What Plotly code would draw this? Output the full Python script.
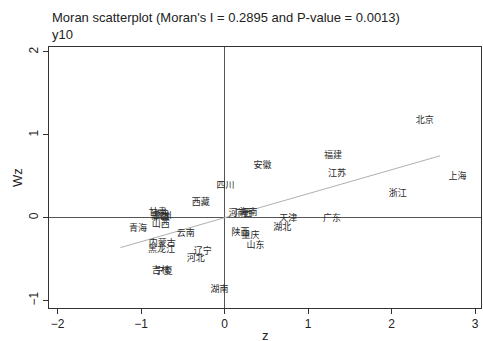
import plotly.graph_objects as go

provinces = ["北京", "上海", "浙江", "福建", "江苏", "广东", "天津", "湖北", "安徽", "四川",
             "西藏", "山东", "陕西", "重庆", "河南", "海南", "广西", "湖南", "甘肃", "新疆",
             "贵州", "山西", "江西", "青海", "云南", "内蒙古", "黑龙江", "辽宁", "河北", "吉林", "宁夏"]
z = [2.187, 2.579, 1.863, 1.088, 1.136, 1.076, 0.552, 0.480, 0.242, -0.199,
     -0.497, 0.159, -0.020, 0.099, -0.056, 0.075, 0.015, -0.271, -1.010, -0.974,
     -0.950, -0.974, -0.986, -1.248, -0.676, -1.010, -1.021, -0.471, -0.557, -0.974, -0.938]
wz = [1.175, 0.499, 0.293, 0.752, 0.535, -0.008, -0.008, -0.117, 0.632, 0.390,
      0.185, -0.335, -0.178, -0.214, 0.052, 0.064, 0.045, -0.866, 0.064, 0.004,
      0.028, -0.081, 0.020, -0.129, -0.190, -0.310, -0.383, -0.407, -0.492, -0.637, -0.650]
moran_i = 0.2895
p_value = 0.0013
x_ticks = [-2, -1, 0, 1, 2, 3]
y_ticks = [-1, 0, 1, 2]

fig = go.Figure()
zmin, zmax = min(z), max(z)
fig.add_trace(go.Scatter(x=[zmin, zmax], y=[moran_i * zmin, moran_i * zmax], mode="lines",
                         line=dict(color="#b0b0b0", width=1), hoverinfo="skip", showlegend=False))
fig.add_trace(go.Scatter(x=z, y=wz, mode="markers+text", text=provinces, textposition="middle right",
                         marker=dict(size=12, opacity=0),
                         textfont=dict(family="Noto Sans CJK SC", size=9, color="#2a2a2a"),
                         showlegend=False))

fig.update_layout(
    width=483, height=341,
    margin=dict(l=49, r=2, t=47, b=33, autoexpand=False),
    paper_bgcolor="white", plot_bgcolor="white",
    font=dict(family="Liberation Sans, Arial", color="#222222", size=12),
    annotations=[
        dict(text=f"Moran scatterplot (Moran's I = {moran_i} and P-value = {p_value:.4f})<br>y10",
             xref="paper", yref="paper", x=0, y=1, xanchor="left", yanchor="bottom",
             yshift=3, xshift=1, align="left", showarrow=False,
             font=dict(size=13, color="#222222", family="Liberation Sans, Arial")),
        dict(text="z", xref="paper", yref="paper", x=0.5, y=0, xanchor="center", yanchor="top",
             yshift=-18, showarrow=False, font=dict(size=13, color="#222222")),
        dict(text="Wz", xref="paper", yref="paper", x=0, y=0.5, xanchor="right", yanchor="middle",
             xshift=-22, textangle=-90, showarrow=False, font=dict(size=13, color="#222222")),
    ],
)
fig.update_xaxes(range=[-2.104, 3.07], tickvals=x_ticks, ticks="outside", ticklen=5,
                 tickcolor="#333", showgrid=False, zeroline=True, zerolinecolor="#555",
                 zerolinewidth=1, showline=True, linecolor="#333", mirror=True, linewidth=1,
                 automargin=False, tickfont=dict(size=12))
fig.update_yaxes(range=[-1.09, 2.06], tickvals=y_ticks, ticks="outside", ticklen=5,
                 tickcolor="#333", showgrid=False, zeroline=True, zerolinecolor="#555",
                 zerolinewidth=1, showline=True, linecolor="#333", mirror=True, linewidth=1,
                 automargin=False, tickangle=-90, tickfont=dict(size=12))

fig.write_html("out.html", config={"displayModeBar": False},
               post_script="document.body.style.margin='0';document.body.style.overflow='hidden';")
